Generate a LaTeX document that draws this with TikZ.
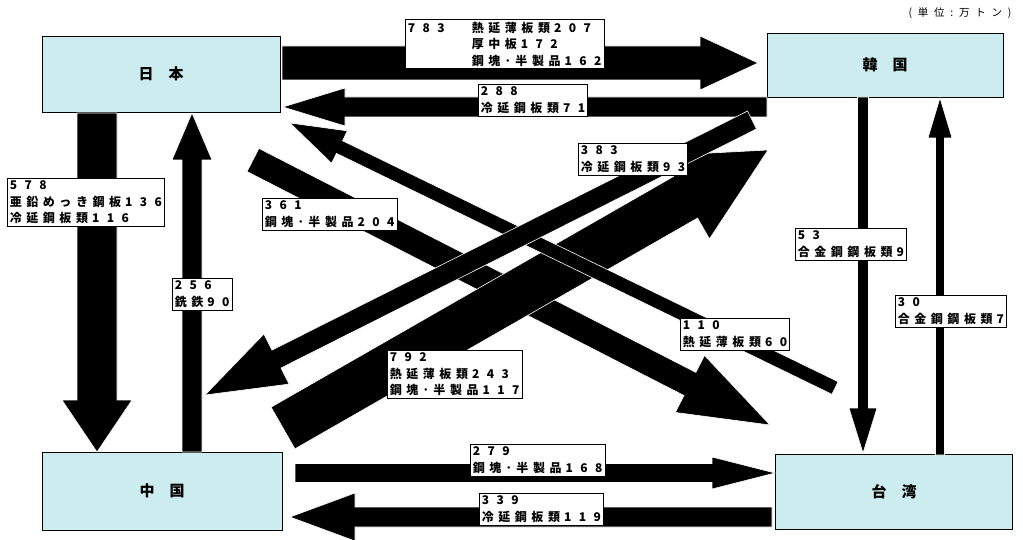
\documentclass[tikz,border=0pt]{standalone}
\usepackage{fontspec}
\usetikzlibrary{calc}

\newfontfamily\lblfont{Noto Sans CJK JP}[LetterSpace=38]
\newfontfamily\numfont{Noto Sans CJK JP}[LetterSpace=62]
\newfontfamily\ttlfont{Noto Sans CJK JP}
\newfontfamily\unitfont{Noto Sans CJK JP}[LetterSpace=55]
\newcommand{\nm}[1]{{\numfont\bfseries #1}}
\newcommand{\nt}[1]{\kern4pt{\numfont\bfseries #1}}
\definecolor{boxcyan}{RGB}{204,236,240}

\tikzset{
  region/.style={draw=black, fill=boxcyan, line width=0.8pt, minimum width=238pt, minimum height=76pt,
    font=\ttlfont\bfseries\fontsize{15}{17}\selectfont},
  lbl/.style={draw=black, fill=white, line width=0.6pt, anchor=north west, align=left,
    inner xsep=2.5pt, inner ysep=2.5pt, font=\lblfont\bfseries\fontsize{12}{16.5}\selectfont},
  arrowbody/.style={fill=black, draw=white, line width=0.6pt}
}

% tail, tip, half shaft, half head, head length
\newcommand{\fatarrow}[5]{%
  \coordinate (hb) at ($(#2)!#5!(#1)$);
  \filldraw[arrowbody] ($(#1)!#3!90:(#2)$) -- ($(hb)!#3!90:(#2)$) -- ($(hb)!#4!90:(#2)$)
    -- (#2) -- ($(hb)!#4!-90:(#2)$) -- ($(hb)!#3!-90:(#2)$) -- ($(#1)!#3!-90:(#2)$) -- cycle;
}

\begin{document}
\begin{tikzpicture}[x=1pt, y=-1pt]
\useasboundingbox (0,0) rectangle (1023,540);

\node[region] (japan) at (161,74) {日\hspace{15pt}本};
\node[region, minimum width=236pt, minimum height=64pt] (korea) at (885,65) {韓\hspace{15pt}国};
\node[region, minimum width=240pt, minimum height=78pt] (china) at (162,491) {中\hspace{15pt}国};
\node[region, minimum width=237pt, minimum height=75pt] (taiwan) at (894,492) {台\hspace{15pt}湾};

\node[anchor=east, font=\unitfont\fontsize{10.5}{12}\selectfont] (unit) at (1015,13) {(単位:万トン)};

\coordinate (jk1) at (282,63);  \coordinate (jk2) at (758,63);
\coordinate (kj1) at (767,107); \coordinate (kj2) at (283,107);
\coordinate (jc1) at (97,113);  \coordinate (jc2) at (97,452);
\coordinate (cj1) at (192,452); \coordinate (cj2) at (192,113);
\coordinate (kt1) at (863,97);  \coordinate (kt2) at (863,453);
\coordinate (tk1) at (940,455); \coordinate (tk2) at (940,98);
\coordinate (ct1) at (295,473); \coordinate (ct2) at (775,473);
\coordinate (tc1) at (772,517); \coordinate (tc2) at (290,517);
\coordinate (jt1) at (253,160); \coordinate (jt2) at (770,425);
\coordinate (tj1) at (835,388); \coordinate (tj2) at (290,123);
\coordinate (ck1) at (283,428); \coordinate (ck2) at (768,150);
\coordinate (kc1) at (752,120); \coordinate (kc2) at (205,395);

\fatarrow{jk1}{jk2}{17pt}{27pt}{58pt}
\fatarrow{kj1}{kj2}{10pt}{19pt}{62pt}
\fatarrow{jc1}{jc2}{20pt}{35pt}{52pt}
\fatarrow{cj1}{cj2}{10pt}{20pt}{47pt}
\fatarrow{kt1}{kt2}{5.5pt}{14pt}{45pt}
\fatarrow{tk1}{tk2}{4.5pt}{12pt}{40pt}
\fatarrow{ct1}{ct2}{9.5pt}{16pt}{63pt}
\fatarrow{tc1}{tc2}{10pt}{24pt}{65pt}
\fatarrow{jt1}{jt2}{13pt}{32pt}{90pt}
\fatarrow{ck1}{ck2}{24pt}{48pt}{95pt}
\fatarrow{tj1}{tj2}{7pt}{18pt}{55pt}
\fatarrow{kc1}{kc2}{10pt}{28pt}{80pt}

\node[lbl] (l783) at (405,19) {\makebox[64pt][l]{\nm{783}}熱延薄板類\nt{207}\\
  \hspace*{64pt}厚中板\nt{172}\\ \hspace*{64pt}鋼塊･半製品\nt{162}};
\node[lbl] (l288) at (478,84) {\nm{288}\\冷延鋼板類\nt{71}};
\node[lbl] (l578) at (7,178) {\nm{578}\\亜鉛めっき鋼板\nt{136}\\冷延鋼板類\nt{116}};
\node[lbl] (l361) at (262,198) {\nm{361}\\鋼塊･半製品\nt{204}};
\node[lbl] (l383) at (578,143) {\nm{383}\\冷延鋼板類\nt{93}};
\node[lbl] (l256) at (172,278) {\nm{256}\\銑鉄\nt{90}};
\node[lbl] (l792) at (387,350) {\nm{792}\\熱延薄板類\nt{243}\\鋼塊･半製品\nt{117}};
\node[lbl] (l110) at (680,318) {\nm{110}\\熱延薄板類\nt{60}};
\node[lbl] (l53) at (795,228) {\nm{53}\\合金鋼鋼板類\nt{9}};
\node[lbl] (l30) at (895,295) {\nm{30}\\合金鋼鋼板類\nt{7}};
\node[lbl] (l279) at (470,444) {\nm{279}\\鋼塊･半製品\nt{168}};
\node[lbl] (l339) at (479,493) {\nm{339}\\冷延鋼板類\nt{119}};

\end{tikzpicture}
\end{document}
